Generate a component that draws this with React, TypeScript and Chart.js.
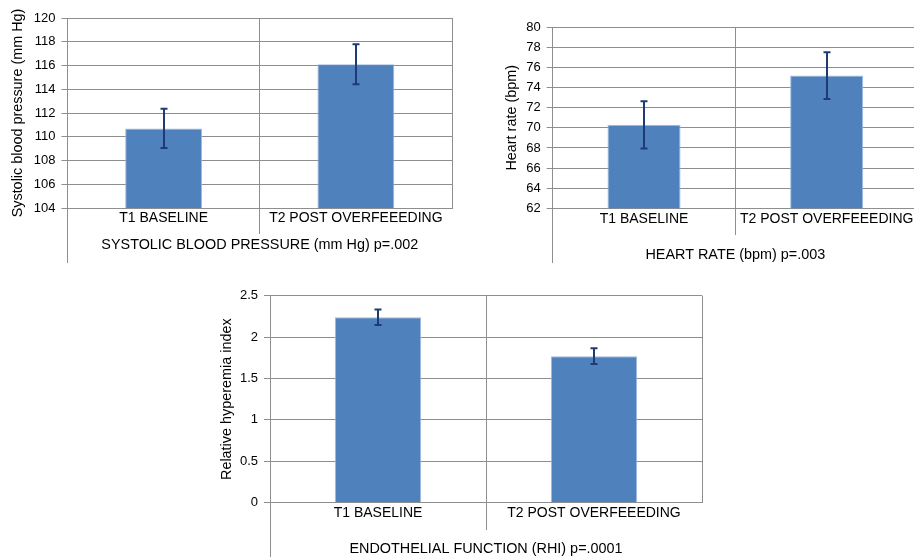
import React, { useEffect, useRef } from 'react';
import { Chart, registerables } from 'chart.js';

Chart.register(...registerables);

// ---- data ----
const categories = ['T1 BASELINE', 'T2 POST OVERFEEEDING'];

const sbpMeans = [110.7, 116.1];
const sbpErrors = [1.65, 1.68];
const sbpTicks = [104, 106, 108, 110, 112, 114, 116, 118, 120];

const hrMeans = [70.3, 75.2];
const hrErrors = [2.35, 2.33];
const hrTicks = [62, 64, 66, 68, 70, 72, 74, 76, 78, 80];

const rhiMeans = [2.24, 1.77];
const rhiErrors = [0.093, 0.095];
const rhiTicks = [0, 0.5, 1, 1.5, 2, 2.5];

const sbpYTitle = 'Systolic blood pressure (mm Hg)';
const sbpXTitle = 'SYSTOLIC BLOOD PRESSURE (mm Hg) p=.002';
const hrYTitle = 'Heart rate (bpm)';
const hrXTitle = 'HEART RATE (bpm) p=.003';
const rhiYTitle = 'Relative hyperemia index';
const rhiXTitle = 'ENDOTHELIAL FUNCTION (RHI) p=.0001';

// ---- styles ----
const FONT = '"Liberation Sans", Arial, Helvetica, sans-serif';
const GRID = '#8e8e8e';
const BAR = '#4f81bd';
const BAR_EDGE = '#9fbadd';
const ERR = '#1f3b73';
const TITLE_SIZE = 14.4;

const align = (p: number) => Math.round(p - 0.5) + 0.5;

const errorBarPlugin = {
  id: 'errorBars',
  afterDatasetsDraw(chart: any, _args: any, opts: any) {
    const errs: number[] = opts.errors || [];
    const meta = chart.getDatasetMeta(0);
    const y = chart.scales.y;
    const ctx = chart.ctx;
    ctx.save();
    ctx.strokeStyle = ERR;
    ctx.lineWidth = 2;
    meta.data.forEach((bar: any, i: number) => {
      const v = chart.data.datasets[0].data[i] as number;
      const top = y.getPixelForValue(v + errs[i]);
      const bot = y.getPixelForValue(v - errs[i]);
      const x = Math.round(bar.x);
      ctx.beginPath();
      ctx.moveTo(x, top);
      ctx.lineTo(x, bot);
      ctx.moveTo(x - 3.5, top);
      ctx.lineTo(x + 3.5, top);
      ctx.moveTo(x - 3.5, bot);
      ctx.lineTo(x + 3.5, bot);
      ctx.stroke();
    });
    ctx.restore();
  },
};

const extLinesPlugin = {
  id: 'extLines',
  afterDraw(chart: any, _args: any, opts: any) {
    const { ctx, chartArea } = chart;
    const x = chart.scales.x;
    const mid = align((x.getPixelForValue(0) + x.getPixelForValue(1)) / 2);
    const left = align(chartArea.left);
    ctx.save();
    ctx.strokeStyle = GRID;
    ctx.lineWidth = 1;
    ctx.beginPath();
    ctx.moveTo(mid, chartArea.bottom);
    ctx.lineTo(mid, opts.midBottom);
    ctx.moveTo(left, chartArea.bottom);
    ctx.lineTo(left, opts.leftBottom);
    ctx.stroke();
    ctx.restore();
  },
};

type PanelProps = {
  left: number;
  top: number;
  width: number;
  height: number;
  areaLeft: number;
  areaRight: number;
  areaTop: number;
  areaBottom: number;
  yTitlePad: number;
  xTitlePad: number;
  midBottom: number;
  leftBottom: number;
  means: number[];
  errors: number[];
  ticks: number[];
  yTitle: string;
  xTitle: string;
};

function Panel(p: PanelProps) {
  const ref = useRef<HTMLCanvasElement | null>(null);
  useEffect(() => {
    if (!ref.current) return;
    const chart = new Chart(ref.current, {
      type: 'bar',
      data: {
        labels: categories,
        datasets: [
          {
            data: p.means,
            backgroundColor: BAR,
            borderColor: BAR_EDGE,
            borderWidth: 1,
            barPercentage: 0.4,
            categoryPercentage: 1,
          },
        ],
      },
      options: {
        responsive: false,
        animation: false,
        devicePixelRatio: 1,
        layout: {
          padding: { left: 0, top: p.areaTop, right: p.width - p.areaRight, bottom: 0 },
        },
        plugins: {
          legend: { display: false },
          tooltip: { enabled: false },
          errorBars: { errors: p.errors },
          extLines: { midBottom: p.midBottom, leftBottom: p.leftBottom },
        } as any,
        scales: {
          x: {
            type: 'category',
            offset: true,
            grid: { display: true, offset: true, color: GRID, lineWidth: 1, drawTicks: false },
            border: { display: true, color: GRID },
            ticks: {
              color: '#000',
              font: { family: FONT, size: 14 },
              padding: 2,
              maxRotation: 0,
              autoSkip: false,
            },
            title: {
              display: true,
              text: p.xTitle,
              color: '#000',
              font: { family: FONT, size: TITLE_SIZE },
              padding: { top: 0, bottom: p.xTitlePad },
            },
            afterFit: (s: any) => {
              s.height = p.height - p.areaBottom;
            },
          },
          y: {
            type: 'linear',
            min: p.ticks[0],
            max: p.ticks[p.ticks.length - 1],
            ticks: {
              stepSize: p.ticks[1] - p.ticks[0],
              color: '#000',
              font: { family: FONT, size: 13 },
              padding: 6,
              callback: (v: any) => String(Number(v)),
            },
            grid: { color: GRID, lineWidth: 1, tickLength: 6, drawTicks: true },
            border: { display: true, color: GRID },
            title: {
              display: true,
              text: p.yTitle,
              color: '#000',
              font: { family: FONT, size: TITLE_SIZE },
              padding: { top: p.yTitlePad, bottom: 0 },
            },
            afterFit: (s: any) => {
              s.width = p.areaLeft;
            },
          },
        },
      } as any,
      plugins: [errorBarPlugin, extLinesPlugin],
    });
    return () => chart.destroy();
  }, []);
  return (
    <canvas
      ref={ref}
      width={p.width}
      height={p.height}
      style={{ position: 'absolute', left: p.left, top: p.top }}
    />
  );
}

export default function App() {
  return (
    <div
      style={{
        position: 'fixed',
        left: 0,
        top: 0,
        width: 914,
        height: 557,
        overflow: 'hidden',
        background: '#fff',
      }}
    >
      <Panel
        left={0}
        top={0}
        width={460}
        height={270}
        areaLeft={67.5}
        areaRight={452}
        areaTop={18}
        areaBottom={208}
        yTitlePad={9.6}
        xTitlePad={16.4}
        midBottom={234}
        leftBottom={263}
        means={sbpMeans}
        errors={sbpErrors}
        ticks={sbpTicks}
        yTitle={sbpYTitle}
        xTitle={sbpXTitle}
      />
      <Panel
        left={480}
        top={0}
        width={460}
        height={270}
        areaLeft={72.7}
        areaRight={438}
        areaTop={27.3}
        areaBottom={208.3}
        yTitlePad={23}
        xTitlePad={6.4}
        midBottom={235}
        leftBottom={263}
        means={hrMeans}
        errors={hrErrors}
        ticks={hrTicks}
        yTitle={hrYTitle}
        xTitle={hrXTitle}
      />
      <Panel
        left={210}
        top={280}
        width={500}
        height={285}
        areaLeft={60}
        areaRight={492}
        areaTop={15.7}
        areaBottom={222.7}
        yTitlePad={8}
        xTitlePad={6.9}
        midBottom={250}
        leftBottom={285}
        means={rhiMeans}
        errors={rhiErrors}
        ticks={rhiTicks}
        yTitle={rhiYTitle}
        xTitle={rhiXTitle}
      />
    </div>
  );
}
